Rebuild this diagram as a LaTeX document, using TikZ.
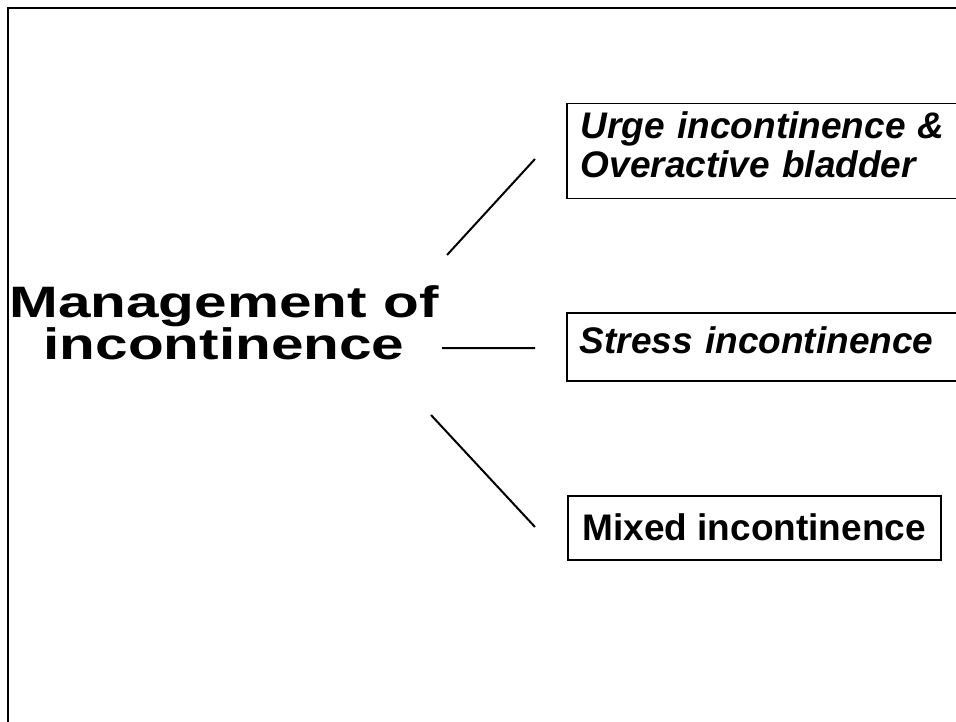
\documentclass[tikz,border=0pt]{standalone}
\usepackage{fontspec}
\setmainfont{Liberation Sans}
\usetikzlibrary{positioning}

\newcommand{\titlen}{\node[align=center, inner sep=0pt, xscale=1.33, transform shape, font=\bfseries\fontsize{44}{42}\selectfont]}
\newcommand{\boxn}{\node[draw, line width=1.5pt, anchor=north west, inner ysep=0pt, align=left, font=\bfseries\fontsize{37}{39}\selectfont]}
\newcommand{\boxi}{\node[draw, line width=1.5pt, anchor=north west, inner ysep=0pt, align=left, font=\bfseries\itshape\fontsize{37}{39}\selectfont]}

\begin{document}
\begin{tikzpicture}[x=1pt, y=-1pt]
        \clip (0,0) rectangle (956,722);
        \draw[line width=2.5pt] (8,8) rectangle (1000,760);

        \titlen (n0) at (224,323) {Management of\\incontinence};
        \boxi[inner xsep=14pt, text width=400pt, minimum height=95pt, text depth=52pt] (n1) at (566,103) {Urge incontinence \&\\Overactive bladder};
        \boxi[inner xsep=13pt, text width=400pt, text height=41pt, text depth=27pt] (n2) at (566,312) {Stress incontinence};
        \boxn[minimum width=373pt, text height=45pt, text depth=19pt] (n3) at (567,495) {Mixed incontinence};

        \coordinate (a1) at (447,255);
        \coordinate (b1) at (535,159);
        \coordinate (a2) at (442,348);
        \coordinate (b2) at (535,348);
        \coordinate (a3) at (431,415);
        \coordinate (b3) at (535,527);

        \draw[line width=2pt]
            (a1) -- (b1)
            (a2) -- (b2)
            (a3) -- (b3)
            ;
    \end{tikzpicture}
\end{document}
